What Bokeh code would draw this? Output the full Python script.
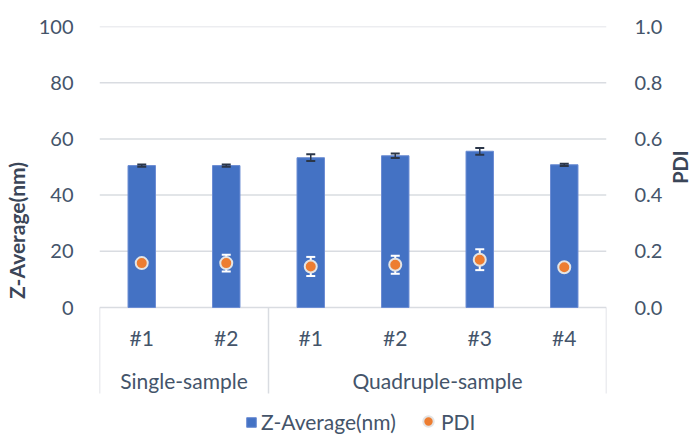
import math
from bokeh.plotting import figure
from bokeh.layouts import row
from bokeh.models import (FactorRange, Range1d, LinearAxis, FixedTicker, NumeralTickFormatter,
                          ColumnDataSource, Legend, LegendItem)
from bokeh.core.properties import value
from bokeh.embed import file_html
from bokeh.resources import INLINE

# ---- data ----
groups = ["Single-sample", "Single-sample", "Quadruple-sample", "Quadruple-sample",
          "Quadruple-sample", "Quadruple-sample"]
samples = ["#1", "#2", "#1", "#2", "#3", "#4"]
z_avg = [50.5, 50.5, 53.3, 54.0, 55.6, 50.8]
z_err = [0.4, 0.4, 1.2, 0.8, 1.2, 0.4]
pdi = [0.158, 0.158, 0.146, 0.152, 0.170, 0.143]
pdi_err = [0.0, 0.030, 0.034, 0.032, 0.037, 0.0]
group_names = ["Single-sample", "Quadruple-sample"]
left_ticks = [0, 20, 40, 60, 80, 100]
right_ticks = [0.0, 0.2, 0.4, 0.6, 0.8, 1.0]

# ---- layout (pixels) ----
W_MAIN, W_SIDE, H = 665, 26, 434
LEFT, RIGHT = 95, 54
TOP, ZERO, BOTTOM = 26, 307, 434          # frame top (=100), zero line, frame bottom
ppu = (ZERO - TOP) / 100.0
y_lo = -(BOTTOM - ZERO) / ppu
def px_below(d):
    return -d / ppu

TEXT = "#44546A"
TITLE = "#3B4658"
FONT = "Lato"

factors = list(zip(groups, samples))
xr = FactorRange(factors=factors, factor_padding=0, group_padding=0, range_padding=0)
yr = Range1d(y_lo, 100)

p = figure(width=W_MAIN, height=H, x_range=xr, y_range=yr,
           output_backend="svg", toolbar_location=None,
           min_border_left=LEFT, min_border_right=RIGHT, min_border_top=TOP, min_border_bottom=0)
p.xaxis.visible = False
p.yaxis.visible = False
p.outline_line_color = None
p.xgrid.visible = False
p.ygrid.visible = False

p.extra_y_ranges = {"pdi": Range1d(y_lo / 100.0, 1.0)}

def style_axis(ax):
    ax.axis_line_color = None
    ax.major_tick_line_color = None
    ax.minor_tick_line_color = None
    ax.major_label_text_font = FONT
    ax.major_label_text_font_size = "20px"
    ax.major_label_text_color = TEXT
    ax.major_label_standoff = 20
    ax.axis_label_text_font = FONT
    ax.axis_label_text_font_size = "21px"
    ax.axis_label_text_font_style = "bold"
    ax.axis_label_text_color = TITLE
    ax.axis_label_standoff = 7

ly = LinearAxis(ticker=FixedTicker(ticks=left_ticks), bounds=(0, 100), axis_label="Z-Average(nm)")
style_axis(ly)
p.add_layout(ly, "left")

ry = LinearAxis(y_range_name="pdi", ticker=FixedTicker(ticks=right_ticks), bounds=(0, 1),
                formatter=NumeralTickFormatter(format="0.0"))
style_axis(ry)
ry.major_label_standoff = 22
p.add_layout(ry, "right")

# gridlines at left ticks
p.segment(x0=[0] * len(left_ticks), x1=[6] * len(left_ticks), y0=left_ticks, y1=left_ticks,
          line_color="#D9DCE1", line_width=1.5)

src = ColumnDataSource(dict(
    x=factors, z=z_avg,
    zu=[a + b for a, b in zip(z_avg, z_err)], zl=[a - b for a, b in zip(z_avg, z_err)],
    pdi=pdi,
    pu=[a + b for a, b in zip(pdi, pdi_err)], pl=[a - b for a, b in zip(pdi, pdi_err)],
))

bars = p.vbar(x="x", top="z", width=0.325, source=src, fill_color="#4472C4",
              line_color="#6B8CD3", line_width=1)

# Z-average error bars
p.segment(x0="x", x1="x", y0="zl", y1="zu", source=src, line_color="#2B3648", line_width=1.5)
p.scatter(x="x", y="zu", source=src, marker="dash", size=9, line_color="#2B3648", line_width=2)
p.scatter(x="x", y="zl", source=src, marker="dash", size=9, line_color="#2B3648", line_width=2)

# PDI error bars
p.segment(x0="x", x1="x", y0="pl", y1="pu", source=src, y_range_name="pdi",
          line_color="white", line_width=2)
p.scatter(x="x", y="pu", source=src, y_range_name="pdi", marker="dash", size=9,
          line_color="white", line_width=2)
p.scatter(x="x", y="pl", source=src, y_range_name="pdi", marker="dash", size=9,
          line_color="white", line_width=2)

dots = p.scatter(x="x", y="pdi", source=src, y_range_name="pdi", size=12,
                 fill_color="#ED7D31", line_color="#E4E4E4", line_width=2)

# category axis (drawn below zero line)
sep_x = [0, 2, 6]
p.segment(x0=sep_x, x1=sep_x, y0=[0] * 3, y1=[px_below(86)] * 3, line_color="#D9DCE1", line_width=1.5)
p.text(x=factors, y=[px_below(30)] * len(factors), text=samples, text_font=value(FONT),
       text_font_size="21px", text_color=TEXT, text_align="center", text_baseline="middle")
p.text(x=group_names, y=[px_below(73)] * 2, text=group_names, text_font=value(FONT),
       text_font_size="21px", text_color=TEXT, text_align="center", text_baseline="middle")

# legends
def mk_legend(item, loc, g, standoff):
    lg = Legend(items=[item], location=loc, orientation="horizontal",
                glyph_width=g, glyph_height=g, label_standoff=standoff, padding=0, margin=0,
                border_line_color=None, background_fill_alpha=0,
                label_text_font=FONT, label_text_font_size="21px", label_text_color=TEXT)
    p.add_layout(lg)

mk_legend(LegendItem(label="Z-Average(nm)", renderers=[bars]), (146, 0), 12, 4)
mk_legend(LegendItem(label="PDI", renderers=[dots]), (316, 0), 26, -6)

# narrow strip on the right carrying the secondary axis title, reading upward
side = figure(width=W_SIDE, height=H, x_range=Range1d(0, W_SIDE), y_range=yr,
              output_backend="svg", toolbar_location=None,
              min_border_left=0, min_border_right=0, min_border_top=TOP, min_border_bottom=0)
side.axis.visible = False
side.grid.visible = False
side.outline_line_color = None
side.text(x=[14], y=[50], text=["PDI"], angle=math.pi / 2, text_font=value(FONT),
          text_font_size="20px", text_font_style="bold", text_color=TITLE,
          text_align="center", text_baseline="middle")

layout = row(p, side, spacing=0)
open("out.html", "w").write(file_html(layout, INLINE))
